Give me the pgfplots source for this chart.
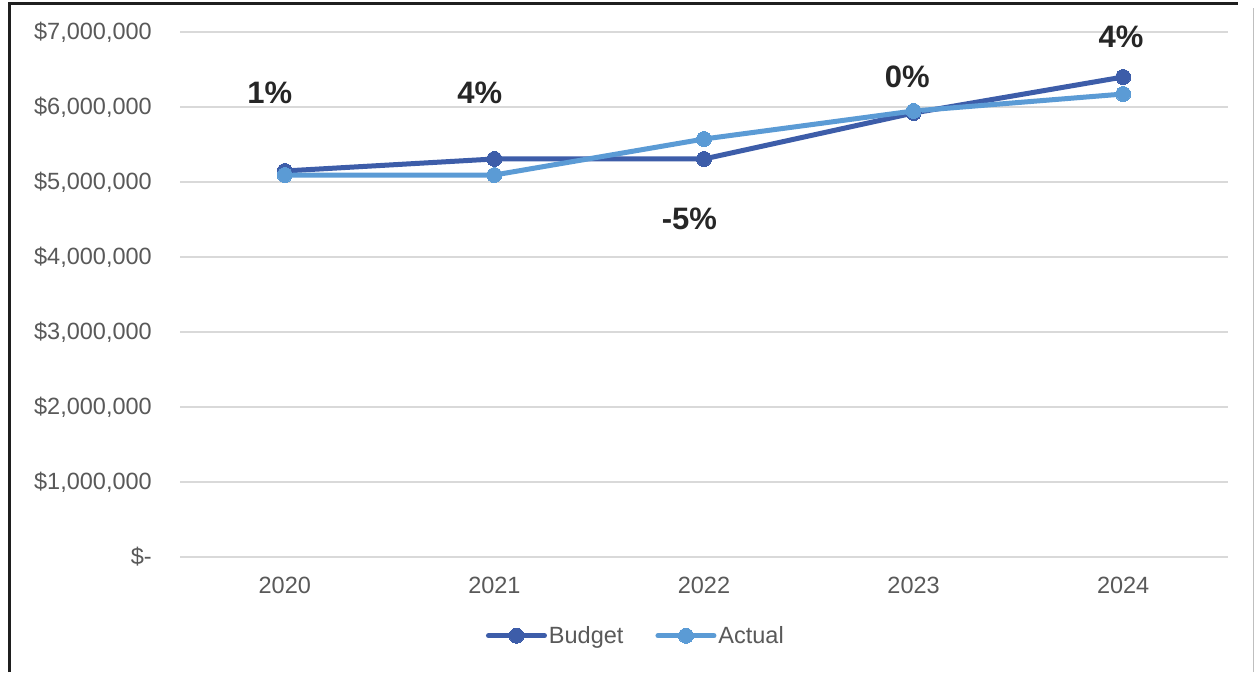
\documentclass[border=0pt]{standalone}
\usepackage{pgfplots}
\pgfplotsset{compat=1.18}
\usepackage{fontspec}
\setmainfont{Liberation Sans}
\definecolor{budget}{HTML}{3D5DA9}
\definecolor{actual}{HTML}{5B9BD5}
\definecolor{txt}{HTML}{595959}
\definecolor{lbl}{HTML}{262626}
\definecolor{gridc}{HTML}{D9D9D9}
\begin{document}
\begin{tikzpicture}[x=1pt,y=1pt]
\path[use as bounding box] (0,0) rectangle (1255,672);
\fill[white] (0,0) rectangle (1255,672);
\draw[black!88, line width=3pt] (9,0) -- (9,668) -- (1238,668);
\draw[black!25, line width=1pt] (1253.5,0) -- (1253.5,664);
\begin{axis}[
  at={(180pt,115pt)}, anchor=south west,
  scale only axis, width=1048pt, height=525pt,
  xmin=-0.5, xmax=4.5, ymin=0, ymax=7000000,
  clip=false, scaled y ticks=false,
  axis line style={draw=none},
  major tick length=0pt, tick style={draw=none},
  ymajorgrids, grid style={gridc, line width=1.5pt},
  xtick={0,1,2,3,4},
  xticklabels={2020,2021,2022,2023,2024},
  ytick={0,1000000,2000000,3000000,4000000,5000000,6000000,7000000},
  yticklabels={{\$-},{\$1,000,000},{\$2,000,000},{\$3,000,000},{\$4,000,000},{\$5,000,000},{\$6,000,000},{\$7,000,000}},
  tick label style={font=\fontsize{23.5}{28}\selectfont, text=txt},
  yticklabel style={anchor=east, inner sep=0pt, xshift=-28pt},
  xticklabel style={anchor=north, inner sep=0pt, yshift=-20pt},
  legend style={at={(0.435,-0.150)}, anchor=center, draw=none, fill=none,
    legend columns=2, font=\fontsize{23.5}{28}\selectfont, text=txt,
    nodes={inner sep=2pt},
    /tikz/every even column/.append style={column sep=30pt},
    /tikz/every odd column/.append style={column sep=0pt}},
  legend cell align=left,
  legend image code/.code={\draw[mark repeat=2,mark phase=2,#1] plot coordinates {(0pt,0pt)(28pt,0pt)(56pt,0pt)};},
]
\addplot[budget, line width=5pt, line join=round, line cap=round, mark=*, mark size=7.5pt, mark options={solid, line width=0pt, fill=budget}]
  coordinates {(0,5147000)(1,5307000)(2,5307000)(3,5920000)(4,6400000)};
\addlegendentry{Budget}
\addplot[actual, line width=5pt, line join=round, line cap=round, mark=*, mark size=7.5pt, mark options={solid, line width=0pt, fill=actual}]
  coordinates {(0,5093000)(1,5093000)(2,5573000)(3,5947000)(4,6173000)};
\addlegendentry{Actual}
\begin{scope}[every node/.style={font=\bfseries\fontsize{31}{36}\selectfont, text=lbl}]
\node at (axis cs:-0.072,6190000) {1\%};
\node at (axis cs:0.93,6190000) {4\%};
\node at (axis cs:1.93,4510000) {-5\%};
\node at (axis cs:2.97,6400000) {0\%};
\node at (axis cs:3.99,6930000) {4\%};
\end{scope}
\end{axis}
\end{tikzpicture}
\end{document}
